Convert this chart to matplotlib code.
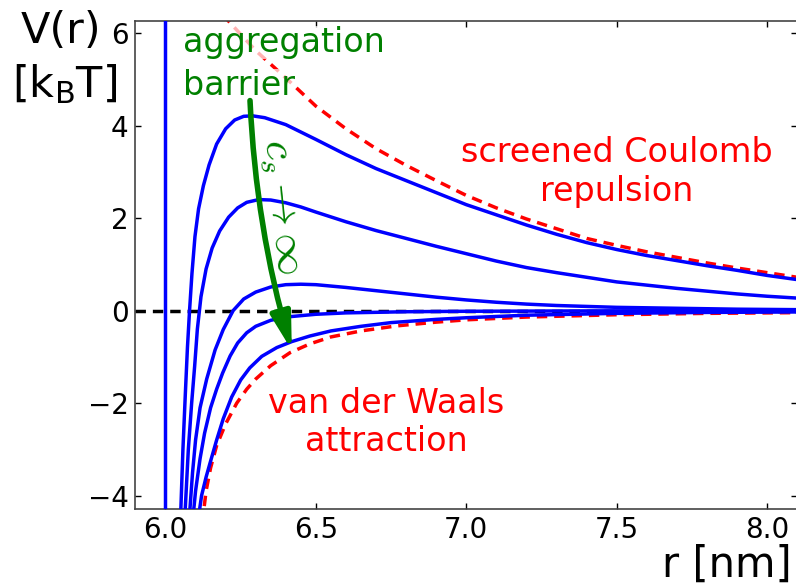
import matplotlib
matplotlib.use("Agg")
import matplotlib.pyplot as plt
from matplotlib.patches import FancyArrowPatch

# Separation r [nm] and pair potential V(r) [k_B T]
r_coul = [6.19, 6.215, 6.30, 6.40, 6.50, 6.60, 6.70, 6.80, 6.90, 7.00, 7.10, 7.20, 7.30, 7.40,
          7.50, 7.60, 7.70, 7.80, 7.90, 8.00, 8.10]
v_coul = [6.40, 6.22, 5.62, 5.03, 4.42, 3.93, 3.50, 3.14, 2.81, 2.49, 2.22, 1.98, 1.77, 1.56,
          1.41, 1.27, 1.15, 1.03, 0.92, 0.82, 0.72]

r_vdw = [6.122, 6.135, 6.150, 6.170, 6.200, 6.237, 6.270, 6.300, 6.350, 6.414, 6.480, 6.550,
         6.650, 6.770, 6.900, 7.000, 7.200, 7.500, 7.800, 8.100]
v_vdw = [-4.60, -3.90, -3.40, -2.92, -2.45, -2.00, -1.70, -1.48, -1.19, -0.91, -0.72, -0.57,
         -0.44, -0.33, -0.25, -0.20, -0.14, -0.09, -0.06, -0.045]

r_tot1 = [6.050, 6.058, 6.066, 6.073, 6.080, 6.088, 6.098, 6.110, 6.126, 6.145, 6.170, 6.200,
          6.230, 6.260, 6.290, 6.330, 6.400, 6.500, 6.600, 6.700, 6.800, 6.900, 7.000, 7.100,
          7.200, 7.300, 7.400, 7.500, 7.600, 7.700, 7.800, 7.900, 8.000, 8.100]
v_tot1 = [-4.50, -3.00, -1.80, -0.80, 0.00, 0.80, 1.60, 2.20, 2.70, 3.15, 3.60, 3.93,
          4.12, 4.20, 4.21, 4.17, 4.02, 3.70, 3.37, 3.07, 2.81, 2.55, 2.29, 2.07,
          1.85, 1.65, 1.47, 1.32, 1.19, 1.08, 0.97, 0.87, 0.76, 0.67]

r_tot2 = [6.064, 6.076, 6.087, 6.097, 6.106, 6.118, 6.135, 6.155, 6.180, 6.210, 6.240, 6.270,
          6.310, 6.350, 6.400, 6.450, 6.500, 6.600, 6.700, 6.800, 6.900, 7.000, 7.100, 7.200,
          7.300, 7.400, 7.500, 7.600, 7.700, 7.800, 7.900, 8.000, 8.100]
v_tot2 = [-4.50, -3.00, -2.00, -1.20, -0.40, 0.30, 0.90, 1.35, 1.72, 2.02, 2.22, 2.34,
          2.40, 2.39, 2.33, 2.24, 2.13, 1.92, 1.73, 1.56, 1.39, 1.23, 1.07, 0.93,
          0.82, 0.72, 0.62, 0.55, 0.48, 0.42, 0.36, 0.31, 0.27]

r_tot3 = [6.079, 6.090, 6.100, 6.115, 6.137, 6.165, 6.192, 6.225, 6.260, 6.300, 6.350, 6.400,
          6.450, 6.500, 6.600, 6.700, 6.800, 6.900, 7.000, 7.100, 7.200, 7.300, 7.400, 7.500,
          7.700, 7.900, 8.100]
v_tot3 = [-4.50, -3.50, -2.80, -2.10, -1.48, -0.85, -0.41, 0.00, 0.25, 0.40, 0.51, 0.56,
          0.57, 0.56, 0.50, 0.43, 0.36, 0.29, 0.23, 0.18, 0.14, 0.11, 0.09, 0.07,
          0.05, 0.03, 0.02]

r_tot4 = [6.091, 6.100, 6.115, 6.130, 6.150, 6.170, 6.190, 6.215, 6.240, 6.270, 6.300, 6.350,
          6.400, 6.500, 6.600, 6.800, 7.000, 7.500, 8.100]
v_tot4 = [-4.50, -3.90, -3.20, -2.65, -2.10, -1.70, -1.35, -0.98, -0.70, -0.48, -0.34, -0.21,
          -0.14, -0.08, -0.05, -0.025, -0.015, -0.005, 0.00]

r_tot5 = [6.109, 6.120, 6.135, 6.148, 6.170, 6.192, 6.220, 6.250, 6.280, 6.320, 6.370, 6.420,
          6.480, 6.550, 6.650, 6.750, 6.900, 7.000, 7.200, 7.500, 7.800, 8.100]
v_tot5 = [-4.50, -4.00, -3.60, -3.30, -2.80, -2.34, -1.87, -1.50, -1.24, -0.99, -0.80, -0.67,
          -0.55, -0.44, -0.34, -0.26, -0.19, -0.155, -0.10, -0.06, -0.04, -0.03]

r_core = 6.0
x_ticks = [6.0, 6.5, 7.0, 7.5, 8.0]
y_ticks = [-4, -2, 0, 2, 4, 6]

fig = plt.figure(figsize=(7.96, 5.86), dpi=100)
ax = fig.add_axes([0.1701, 0.1306, 0.8314, 0.8343])

dash = (3, 2)
ax.plot(r_coul, v_coul, color="red", lw=2.5, ls=(0, dash), zorder=2)
ax.plot(r_vdw, v_vdw, color="red", lw=2.5, ls=(0, dash), zorder=2)
ax.axhline(0, color="black", lw=2.5, ls=(0, dash), zorder=1)
ax.axvline(r_core, color="blue", lw=2.5, zorder=3)
for rr, vv in [(r_tot1, v_tot1), (r_tot2, v_tot2), (r_tot3, v_tot3),
               (r_tot4, v_tot4), (r_tot5, v_tot5)]:
    ax.plot(rr, vv, color="blue", lw=2.5, zorder=3, solid_joinstyle="round")

ax.set_xlim(5.9, 8.1)
ax.set_ylim(-4.3, 6.27)
ax.set_xticks(x_ticks)
ax.set_yticks(y_ticks)
ax.set_xticklabels([f"{t:.1f}" for t in x_ticks])
ax.set_yticklabels([f"\u2212{abs(t)}" if t < 0 else f"{t}" for t in y_ticks])
ax.tick_params(direction="in", length=4, width=1, labelsize=20,
               top=True, right=True, pad=5)
for sp in ax.spines.values():
    sp.set_linewidth(1.2)
    sp.set_color("#444444")

box = dict(facecolor="white", alpha=0.7, edgecolor="none", pad=0)
ax.text(6.058, 5.58, "aggregation", color="green", fontsize=24,
        ha="left", va="baseline", bbox=box, zorder=4)
ax.text(6.058, 4.66, "barrier", color="green", fontsize=24,
        ha="left", va="baseline", bbox=box, zorder=4)

ax.text(7.5, 3.0, "screened Coulomb\nrepulsion", color="red", fontsize=24,
        ha="center", va="center", linespacing=1.25)
ax.text(6.733, -2.42, "van der Waals\nattraction", color="red", fontsize=24,
        ha="center", va="center", linespacing=1.2)

ax.text(6.39, 2.25, r"$c_s\to\infty$", color="green", fontsize=31,
        rotation=-84, ha="center", va="center", math_fontfamily="cm", zorder=5)

arrow = FancyArrowPatch((6.281, 4.54), (6.42, -0.86),
                        connectionstyle="arc3,rad=0.06",
                        arrowstyle="-|>,head_length=22,head_width=6",
                        mutation_scale=1, shrinkA=0, shrinkB=0,
                        color="green", lw=4, zorder=6)
ax.add_patch(arrow)

fig.text(61 / 796, 1 - 31 / 586, "V(r)", fontsize=31, ha="center", va="center")
fig.text(65 / 796, 1 - 84 / 586, r"[k$_\mathregular{B}$T]", fontsize=31,
         ha="center", va="center")
fig.text(0.995, 0.0, "r [nm]", fontsize=30, ha="right", va="bottom")

fig.savefig("out.png", dpi=100)
